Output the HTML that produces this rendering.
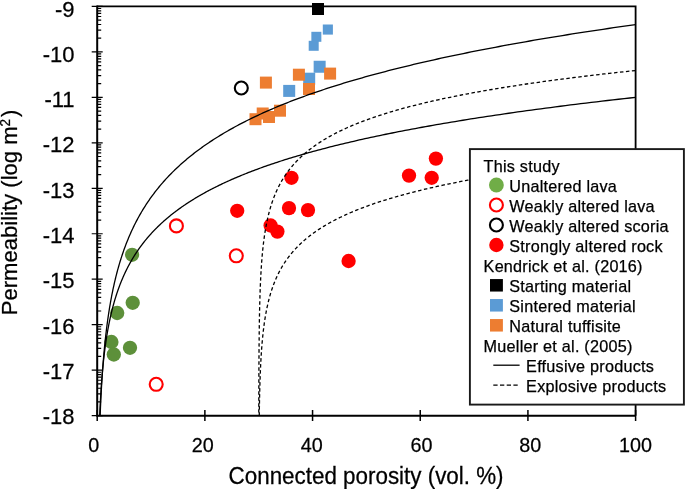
<!DOCTYPE html>
<html><head><meta charset="utf-8"><style>
html,body{margin:0;padding:0;background:#fff;}
body{width:685px;height:489px;overflow:hidden;}
svg{display:block;will-change:transform;}
text{font-family:"Liberation Sans",sans-serif;fill:#000;stroke:#000;stroke-width:0.25px;}
.yl{font-size:22px;}
.xl{font-size:20.4px;}
.tt{font-size:22.4px;}
.lg{font-size:16.2px;letter-spacing:0.24px;}
</style></head><body>
<svg width="685" height="489" viewBox="0 0 685 489">
<rect width="685" height="489" fill="#fff"/>
<circle cx="132.1" cy="254.8" r="7.15" fill="#5d903a"/>
<circle cx="132.7" cy="302.8" r="7.15" fill="#5d903a"/>
<circle cx="117.2" cy="313" r="7.15" fill="#5d903a"/>
<circle cx="111.4" cy="342" r="7.15" fill="#5d903a"/>
<circle cx="113.8" cy="354.5" r="7.15" fill="#5d903a"/>
<circle cx="130" cy="347.8" r="7.15" fill="#5d903a"/>
<circle cx="176.4" cy="225.9" r="6.5" fill="none" stroke="#ff0000" stroke-width="2.1"/>
<circle cx="236.3" cy="255.8" r="6.5" fill="none" stroke="#ff0000" stroke-width="2.1"/>
<circle cx="156.2" cy="384.3" r="6.5" fill="none" stroke="#ff0000" stroke-width="2.1"/>
<circle cx="241.3" cy="88" r="6.5" fill="none" stroke="#000" stroke-width="2.1"/>
<circle cx="237.2" cy="210.8" r="7.15" fill="#ff0000"/>
<circle cx="291.5" cy="177.8" r="7.15" fill="#ff0000"/>
<circle cx="289" cy="208.1" r="7.15" fill="#ff0000"/>
<circle cx="308" cy="210.1" r="7.15" fill="#ff0000"/>
<circle cx="270.6" cy="225.5" r="7.15" fill="#ff0000"/>
<circle cx="277.4" cy="231.6" r="7.15" fill="#ff0000"/>
<circle cx="348.6" cy="261" r="7.15" fill="#ff0000"/>
<circle cx="409" cy="175.6" r="7.15" fill="#ff0000"/>
<circle cx="435.9" cy="158.6" r="7.15" fill="#ff0000"/>
<circle cx="431.7" cy="177.8" r="7.15" fill="#ff0000"/>
<rect x="312" y="3" width="12" height="12" fill="#000"/>
<rect x="322.8" y="24.5" width="10.1" height="10.1" fill="#5b9bd5"/>
<rect x="311.35" y="31.8" width="10" height="10" fill="#5b9bd5"/>
<rect x="308.7" y="40.8" width="10" height="10" fill="#5b9bd5"/>
<rect x="313.65" y="60.75" width="12" height="12" fill="#5b9bd5"/>
<rect x="303.2" y="72.7" width="12" height="12" fill="#5b9bd5"/>
<rect x="283.2" y="84.9" width="12" height="12" fill="#5b9bd5"/>
<rect x="324.1" y="67.6" width="12" height="12" fill="#ed7d31"/>
<rect x="292.9" y="68.7" width="12" height="12" fill="#ed7d31"/>
<rect x="303" y="83" width="12" height="12" fill="#ed7d31"/>
<rect x="259.9" y="76.6" width="12" height="12" fill="#ed7d31"/>
<rect x="249.5" y="113.2" width="12" height="12" fill="#ed7d31"/>
<rect x="256.7" y="107.5" width="12" height="12" fill="#ed7d31"/>
<rect x="263" y="111" width="12" height="12" fill="#ed7d31"/>
<rect x="274" y="104.7" width="12" height="12" fill="#ed7d31"/>
<path d="M100.14 415.63 L100.17 414.85 L100.2 414.07 L100.23 413.28 L100.26 412.5 L100.29 411.72 L100.33 410.94 L100.36 410.16 L100.39 409.37 L100.43 408.59 L100.46 407.81 L100.49 407.03 L100.53 406.24 L100.56 405.46 L100.6 404.68 L100.63 403.9 L100.67 403.12 L100.71 402.33 L100.74 401.55 L100.78 400.77 L100.82 399.99 L100.86 399.21 L100.89 398.42 L100.93 397.64 L100.97 396.86 L101.01 396.08 L101.05 395.3 L101.09 394.51 L101.13 393.73 L101.17 392.95 L101.22 392.17 L101.26 391.39 L101.3 390.6 L101.34 389.82 L101.39 389.04 L101.43 388.26 L101.47 387.47 L101.52 386.69 L101.56 385.91 L101.61 385.13 L101.66 384.35 L101.7 383.56 L101.75 382.78 L101.8 382 L101.85 381.22 L101.89 380.44 L101.94 379.65 L101.99 378.87 L102.04 378.09 L102.09 377.31 L102.15 376.53 L102.2 375.74 L102.25 374.96 L102.3 374.18 L102.36 373.4 L102.41 372.62 L102.47 371.83 L102.52 371.05 L102.58 370.27 L102.63 369.49 L102.69 368.7 L102.75 367.92 L102.81 367.14 L102.86 366.36 L102.92 365.58 L102.98 364.79 L103.04 364.01 L103.1 363.23 L103.17 362.45 L103.23 361.67 L103.29 360.88 L103.36 360.1 L103.42 359.32 L103.49 358.54 L103.55 357.76 L103.62 356.97 L103.69 356.19 L103.75 355.41 L103.82 354.63 L103.89 353.85 L103.96 353.06 L104.03 352.28 L104.1 351.5 L104.18 350.72 L104.25 349.93 L104.32 349.15 L104.4 348.37 L104.47 347.59 L104.55 346.81 L104.63 346.02 L104.7 345.24 L104.78 344.46 L104.86 343.68 L104.94 342.9 L105.02 342.11 L105.11 341.33 L105.19 340.55 L105.27 339.77 L105.36 338.99 L105.44 338.2 L105.53 337.42 L105.62 336.64 L105.7 335.86 L105.79 335.08 L105.88 334.29 L105.97 333.51 L106.07 332.73 L106.16 331.95 L106.25 331.16 L106.35 330.38 L106.44 329.6 L106.54 328.82 L106.64 328.04 L106.74 327.25 L106.84 326.47 L106.94 325.69 L107.04 324.91 L107.14 324.13 L107.25 323.34 L107.35 322.56 L107.46 321.78 L107.57 321 L107.68 320.22 L107.78 319.43 L107.9 318.65 L108.01 317.87 L108.12 317.09 L108.24 316.31 L108.35 315.52 L108.47 314.74 L108.59 313.96 L108.71 313.18 L108.83 312.39 L108.95 311.61 L109.07 310.83 L109.19 310.05 L109.32 309.27 L109.45 308.48 L109.58 307.7 L109.71 306.92 L109.84 306.14 L109.97 305.36 L110.1 304.57 L110.24 303.79 L110.37 303.01 L110.51 302.23 L110.65 301.45 L110.79 300.66 L110.94 299.88 L111.08 299.1 L111.22 298.32 L111.37 297.54 L111.52 296.75 L111.67 295.97 L111.82 295.19 L111.97 294.41 L112.13 293.62 L112.29 292.84 L112.44 292.06 L112.6 291.28 L112.77 290.5 L112.93 289.71 L113.09 288.93 L113.26 288.15 L113.43 287.37 L113.6 286.59 L113.77 285.8 L113.94 285.02 L114.12 284.24 L114.3 283.46 L114.48 282.68 L114.66 281.89 L114.84 281.11 L115.02 280.33 L115.21 279.55 L115.4 278.77 L115.59 277.98 L115.78 277.2 L115.98 276.42 L116.17 275.64 L116.37 274.85 L116.57 274.07 L116.78 273.29 L116.98 272.51 L117.19 271.73 L117.4 270.94 L117.61 270.16 L117.82 269.38 L118.04 268.6 L118.26 267.82 L118.48 267.03 L118.7 266.25 L118.93 265.47 L119.15 264.69 L119.38 263.91 L119.62 263.12 L119.85 262.34 L120.09 261.56 L120.33 260.78 L120.57 260 L120.82 259.21 L121.06 258.43 L121.31 257.65 L121.57 256.87 L121.82 256.08 L122.08 255.3 L122.34 254.52 L122.6 253.74 L122.87 252.96 L123.14 252.17 L123.41 251.39 L123.68 250.61 L123.96 249.83 L124.24 249.05 L124.53 248.26 L124.81 247.48 L125.1 246.7 L125.39 245.92 L125.69 245.14 L125.99 244.35 L126.29 243.57 L126.59 242.79 L126.9 242.01 L127.21 241.23 L127.53 240.44 L127.85 239.66 L128.17 238.88 L128.49 238.1 L128.82 237.31 L129.15 236.53 L129.48 235.75 L129.82 234.97 L130.16 234.19 L130.51 233.4 L130.86 232.62 L131.21 231.84 L131.57 231.06 L131.93 230.28 L132.29 229.49 L132.66 228.71 L133.03 227.93 L133.41 227.15 L133.79 226.37 L134.17 225.58 L134.56 224.8 L134.95 224.02 L135.34 223.24 L135.74 222.46 L136.15 221.67 L136.55 220.89 L136.97 220.11 L137.38 219.33 L137.8 218.54 L138.23 217.76 L138.66 216.98 L139.09 216.2 L139.53 215.42 L139.98 214.63 L140.43 213.85 L140.88 213.07 L141.34 212.29 L141.8 211.51 L142.27 210.72 L142.74 209.94 L143.21 209.16 L143.7 208.38 L144.18 207.6 L144.68 206.81 L145.17 206.03 L145.68 205.25 L146.18 204.47 L146.7 203.69 L147.22 202.9 L147.74 202.12 L148.27 201.34 L148.8 200.56 L149.34 199.77 L149.89 198.99 L150.44 198.21 L151 197.43 L151.56 196.65 L152.13 195.86 L152.71 195.08 L153.29 194.3 L153.88 193.52 L154.47 192.74 L155.07 191.95 L155.68 191.17 L156.29 190.39 L156.91 189.61 L157.54 188.83 L158.17 188.04 L158.81 187.26 L159.45 186.48 L160.1 185.7 L160.76 184.92 L161.43 184.13 L162.1 183.35 L162.78 182.57 L163.47 181.79 L164.16 181 L164.87 180.22 L165.57 179.44 L166.29 178.66 L167.01 177.88 L167.75 177.09 L168.49 176.31 L169.23 175.53 L169.99 174.75 L170.75 173.97 L171.52 173.18 L172.3 172.4 L173.09 171.62 L173.88 170.84 L174.68 170.06 L175.5 169.27 L176.32 168.49 L177.14 167.71 L177.98 166.93 L178.83 166.15 L179.68 165.36 L180.55 164.58 L181.42 163.8 L182.3 163.02 L183.2 162.23 L184.1 161.45 L185.01 160.67 L185.93 159.89 L186.86 159.11 L187.8 158.32 L188.74 157.54 L189.7 156.76 L190.67 155.98 L191.65 155.2 L192.64 154.41 L193.64 153.63 L194.65 152.85 L195.67 152.07 L196.7 151.29 L197.75 150.5 L198.8 149.72 L199.86 148.94 L200.94 148.16 L202.03 147.38 L203.13 146.59 L204.24 145.81 L205.36 145.03 L206.49 144.25 L207.63 143.46 L208.79 142.68 L209.96 141.9 L211.14 141.12 L212.34 140.34 L213.54 139.55 L214.76 138.77 L215.99 137.99 L217.24 137.21 L218.49 136.43 L219.77 135.64 L221.05 134.86 L222.35 134.08 L223.66 133.3 L224.98 132.52 L226.32 131.73 L227.67 130.95 L229.04 130.17 L230.42 129.39 L231.82 128.61 L233.23 127.82 L234.65 127.04 L236.09 126.26 L237.55 125.48 L239.02 124.69 L240.51 123.91 L242.01 123.13 L243.52 122.35 L245.06 121.57 L246.61 120.78 L248.17 120 L249.75 119.22 L251.35 118.44 L252.97 117.66 L254.6 116.87 L256.25 116.09 L257.91 115.31 L259.6 114.53 L261.3 113.75 L263.02 112.96 L264.76 112.18 L266.51 111.4 L268.28 110.62 L270.08 109.84 L271.89 109.05 L273.72 108.27 L275.57 107.49 L277.44 106.71 L279.32 105.92 L281.23 105.14 L283.16 104.36 L285.11 103.58 L287.08 102.8 L289.07 102.01 L291.08 101.23 L293.11 100.45 L295.16 99.67 L297.23 98.89 L299.33 98.1 L301.45 97.32 L303.59 96.54 L305.75 95.76 L307.93 94.98 L310.14 94.19 L312.37 93.41 L314.63 92.63 L316.91 91.85 L319.21 91.07 L321.53 90.28 L323.88 89.5 L326.26 88.72 L328.66 87.94 L331.08 87.15 L333.53 86.37 L336.01 85.59 L338.51 84.81 L341.04 84.03 L343.59 83.24 L346.18 82.46 L348.78 81.68 L351.42 80.9 L354.08 80.12 L356.78 79.33 L359.49 78.55 L362.24 77.77 L365.02 76.99 L367.83 76.21 L370.66 75.42 L373.53 74.64 L376.42 73.86 L379.35 73.08 L382.3 72.3 L385.29 71.51 L388.31 70.73 L391.36 69.95 L394.44 69.17 L397.55 68.38 L400.7 67.6 L403.88 66.82 L407.09 66.04 L410.34 65.26 L413.62 64.47 L416.93 63.69 L420.28 62.91 L423.67 62.13 L427.09 61.35 L430.55 60.56 L434.04 59.78 L437.57 59 L441.13 58.22 L444.74 57.44 L448.38 56.65 L452.06 55.87 L455.77 55.09 L459.53 54.31 L463.33 53.53 L467.16 52.74 L471.04 51.96 L474.96 51.18 L478.91 50.4 L482.91 49.61 L486.95 48.83 L491.04 48.05 L495.16 47.27 L499.33 46.49 L503.54 45.7 L507.8 44.92 L512.1 44.14 L516.45 43.36 L520.84 42.58 L525.28 41.79 L529.77 41.01 L534.3 40.23 L538.88 39.45 L543.5 38.67 L548.18 37.88 L552.91 37.1 L557.68 36.32 L562.5 35.54 L567.38 34.76 L572.3 33.97 L577.28 33.19 L582.31 32.41 L587.39 31.63 L592.53 30.84 L597.72 30.06 L602.96 29.28 L608.26 28.5 L613.62 27.72 L619.03 26.93 L624.49 26.15 L630.02 25.37 L635.6 24.59" fill="none" stroke="#000" stroke-width="1.3"/>
<path d="M99.7 415.63 L99.73 414.99 L99.75 414.36 L99.78 413.72 L99.81 413.08 L99.84 412.45 L99.87 411.81 L99.89 411.17 L99.92 410.54 L99.95 409.9 L99.98 409.26 L100.01 408.63 L100.04 407.99 L100.07 407.35 L100.1 406.72 L100.14 406.08 L100.17 405.44 L100.2 404.81 L100.23 404.17 L100.27 403.53 L100.3 402.9 L100.33 402.26 L100.37 401.63 L100.4 400.99 L100.43 400.35 L100.47 399.72 L100.5 399.08 L100.54 398.44 L100.58 397.81 L100.61 397.17 L100.65 396.53 L100.69 395.9 L100.72 395.26 L100.76 394.62 L100.8 393.99 L100.84 393.35 L100.88 392.71 L100.92 392.08 L100.96 391.44 L101 390.8 L101.04 390.17 L101.08 389.53 L101.12 388.89 L101.17 388.26 L101.21 387.62 L101.25 386.98 L101.3 386.35 L101.34 385.71 L101.39 385.07 L101.43 384.44 L101.48 383.8 L101.52 383.16 L101.57 382.53 L101.62 381.89 L101.66 381.25 L101.71 380.62 L101.76 379.98 L101.81 379.34 L101.86 378.71 L101.91 378.07 L101.96 377.44 L102.01 376.8 L102.07 376.16 L102.12 375.53 L102.17 374.89 L102.22 374.25 L102.28 373.62 L102.33 372.98 L102.39 372.34 L102.45 371.71 L102.5 371.07 L102.56 370.43 L102.62 369.8 L102.68 369.16 L102.73 368.52 L102.79 367.89 L102.86 367.25 L102.92 366.61 L102.98 365.98 L103.04 365.34 L103.1 364.7 L103.17 364.07 L103.23 363.43 L103.3 362.79 L103.36 362.16 L103.43 361.52 L103.5 360.88 L103.56 360.25 L103.63 359.61 L103.7 358.97 L103.77 358.34 L103.84 357.7 L103.92 357.06 L103.99 356.43 L104.06 355.79 L104.14 355.15 L104.21 354.52 L104.29 353.88 L104.36 353.25 L104.44 352.61 L104.52 351.97 L104.6 351.34 L104.68 350.7 L104.76 350.06 L104.84 349.43 L104.92 348.79 L105.01 348.15 L105.09 347.52 L105.18 346.88 L105.26 346.24 L105.35 345.61 L105.44 344.97 L105.53 344.33 L105.62 343.7 L105.71 343.06 L105.8 342.42 L105.89 341.79 L105.99 341.15 L106.08 340.51 L106.18 339.88 L106.27 339.24 L106.37 338.6 L106.47 337.97 L106.57 337.33 L106.67 336.69 L106.77 336.06 L106.88 335.42 L106.98 334.78 L107.09 334.15 L107.19 333.51 L107.3 332.87 L107.41 332.24 L107.52 331.6 L107.63 330.96 L107.75 330.33 L107.86 329.69 L107.98 329.06 L108.09 328.42 L108.21 327.78 L108.33 327.15 L108.45 326.51 L108.57 325.87 L108.69 325.24 L108.82 324.6 L108.94 323.96 L109.07 323.33 L109.2 322.69 L109.33 322.05 L109.46 321.42 L109.59 320.78 L109.72 320.14 L109.86 319.51 L110 318.87 L110.14 318.23 L110.27 317.6 L110.42 316.96 L110.56 316.32 L110.7 315.69 L110.85 315.05 L111 314.41 L111.15 313.78 L111.3 313.14 L111.45 312.5 L111.6 311.87 L111.76 311.23 L111.92 310.59 L112.07 309.96 L112.24 309.32 L112.4 308.68 L112.56 308.05 L112.73 307.41 L112.9 306.77 L113.06 306.14 L113.24 305.5 L113.41 304.87 L113.58 304.23 L113.76 303.59 L113.94 302.96 L114.12 302.32 L114.3 301.68 L114.49 301.05 L114.68 300.41 L114.86 299.77 L115.06 299.14 L115.25 298.5 L115.44 297.86 L115.64 297.23 L115.84 296.59 L116.04 295.95 L116.24 295.32 L116.45 294.68 L116.66 294.04 L116.87 293.41 L117.08 292.77 L117.3 292.13 L117.51 291.5 L117.73 290.86 L117.95 290.22 L118.18 289.59 L118.41 288.95 L118.63 288.31 L118.87 287.68 L119.1 287.04 L119.34 286.4 L119.58 285.77 L119.82 285.13 L120.06 284.49 L120.31 283.86 L120.56 283.22 L120.81 282.58 L121.07 281.95 L121.32 281.31 L121.58 280.68 L121.85 280.04 L122.11 279.4 L122.38 278.77 L122.65 278.13 L122.93 277.49 L123.21 276.86 L123.49 276.22 L123.77 275.58 L124.06 274.95 L124.35 274.31 L124.64 273.67 L124.94 273.04 L125.24 272.4 L125.54 271.76 L125.85 271.13 L126.16 270.49 L126.47 269.85 L126.79 269.22 L127.11 268.58 L127.43 267.94 L127.76 267.31 L128.09 266.67 L128.42 266.03 L128.76 265.4 L129.1 264.76 L129.44 264.12 L129.79 263.49 L130.14 262.85 L130.5 262.21 L130.86 261.58 L131.22 260.94 L131.59 260.3 L131.96 259.67 L132.34 259.03 L132.72 258.39 L133.1 257.76 L133.49 257.12 L133.88 256.48 L134.28 255.85 L134.68 255.21 L135.08 254.58 L135.49 253.94 L135.91 253.3 L136.32 252.67 L136.75 252.03 L137.17 251.39 L137.61 250.76 L138.04 250.12 L138.48 249.48 L138.93 248.85 L139.38 248.21 L139.84 247.57 L140.3 246.94 L140.76 246.3 L141.23 245.66 L141.71 245.03 L142.19 244.39 L142.67 243.75 L143.17 243.12 L143.66 242.48 L144.16 241.84 L144.67 241.21 L145.18 240.57 L145.7 239.93 L146.23 239.3 L146.76 238.66 L147.29 238.02 L147.83 237.39 L148.38 236.75 L148.93 236.11 L149.49 235.48 L150.06 234.84 L150.63 234.2 L151.21 233.57 L151.79 232.93 L152.38 232.29 L152.97 231.66 L153.58 231.02 L154.19 230.39 L154.8 229.75 L155.42 229.11 L156.05 228.48 L156.69 227.84 L157.33 227.2 L157.98 226.57 L158.64 225.93 L159.3 225.29 L159.97 224.66 L160.65 224.02 L161.34 223.38 L162.03 222.75 L162.73 222.11 L163.44 221.47 L164.15 220.84 L164.88 220.2 L165.61 219.56 L166.35 218.93 L167.09 218.29 L167.85 217.65 L168.61 217.02 L169.38 216.38 L170.16 215.74 L170.95 215.11 L171.75 214.47 L172.55 213.83 L173.37 213.2 L174.19 212.56 L175.02 211.92 L175.86 211.29 L176.71 210.65 L177.57 210.01 L178.44 209.38 L179.32 208.74 L180.21 208.1 L181.1 207.47 L182.01 206.83 L182.92 206.2 L183.85 205.56 L184.79 204.92 L185.73 204.29 L186.69 203.65 L187.66 203.01 L188.63 202.38 L189.62 201.74 L190.62 201.1 L191.63 200.47 L192.65 199.83 L193.68 199.19 L194.72 198.56 L195.78 197.92 L196.84 197.28 L197.92 196.65 L199.01 196.01 L200.11 195.37 L201.22 194.74 L202.34 194.1 L203.48 193.46 L204.62 192.83 L205.79 192.19 L206.96 191.55 L208.14 190.92 L209.34 190.28 L210.55 189.64 L211.78 189.01 L213.02 188.37 L214.27 187.73 L215.53 187.1 L216.81 186.46 L218.1 185.82 L219.41 185.19 L220.73 184.55 L222.06 183.91 L223.41 183.28 L224.78 182.64 L226.16 182.01 L227.55 181.37 L228.96 180.73 L230.38 180.1 L231.82 179.46 L233.27 178.82 L234.74 178.19 L236.23 177.55 L237.73 176.91 L239.25 176.28 L240.78 175.64 L242.33 175 L243.9 174.37 L245.49 173.73 L247.09 173.09 L248.71 172.46 L250.35 171.82 L252 171.18 L253.67 170.55 L255.36 169.91 L257.07 169.27 L258.8 168.64 L260.54 168 L262.31 167.36 L264.09 166.73 L265.9 166.09 L267.72 165.45 L269.56 164.82 L271.42 164.18 L273.31 163.54 L275.21 162.91 L277.13 162.27 L279.07 161.63 L281.04 161 L283.03 160.36 L285.03 159.72 L287.06 159.09 L289.11 158.45 L291.19 157.82 L293.28 157.18 L295.4 156.54 L297.54 155.91 L299.71 155.27 L301.89 154.63 L304.11 154 L306.34 153.36 L308.6 152.72 L310.88 152.09 L313.19 151.45 L315.53 150.81 L317.88 150.18 L320.27 149.54 L322.68 148.9 L325.11 148.27 L327.58 147.63 L330.07 146.99 L332.58 146.36 L335.12 145.72 L337.69 145.08 L340.29 144.45 L342.92 143.81 L345.57 143.17 L348.26 142.54 L350.97 141.9 L353.71 141.26 L356.48 140.63 L359.28 139.99 L362.11 139.35 L364.98 138.72 L367.87 138.08 L370.79 137.44 L373.75 136.81 L376.74 136.17 L379.76 135.53 L382.81 134.9 L385.89 134.26 L389.01 133.63 L392.17 132.99 L395.35 132.35 L398.57 131.72 L401.83 131.08 L405.12 130.44 L408.45 129.81 L411.81 129.17 L415.21 128.53 L418.64 127.9 L422.12 127.26 L425.63 126.62 L429.17 125.99 L432.76 125.35 L436.39 124.71 L440.05 124.08 L443.75 123.44 L447.5 122.8 L451.28 122.17 L455.11 121.53 L458.97 120.89 L462.88 120.26 L466.83 119.62 L470.83 118.98 L474.86 118.35 L478.94 117.71 L483.07 117.07 L487.24 116.44 L491.45 115.8 L495.71 115.16 L500.01 114.53 L504.37 113.89 L508.76 113.25 L513.21 112.62 L517.71 111.98 L522.25 111.34 L526.84 110.71 L531.48 110.07 L536.17 109.44 L540.92 108.8 L545.71 108.16 L550.55 107.53 L555.45 106.89 L560.4 106.25 L565.41 105.62 L570.47 104.98 L575.58 104.34 L580.75 103.71 L585.97 103.07 L591.25 102.43 L596.59 101.8 L601.98 101.16 L607.44 100.52 L612.95 99.89 L618.52 99.25 L624.15 98.61 L629.85 97.98 L635.6 97.34" fill="none" stroke="#000" stroke-width="1.3"/>
<path d="M258.78 415.63 L258.78 415.05 L258.78 414.48 L258.78 413.9 L258.78 413.33 L258.78 412.75 L258.79 412.18 L258.79 411.6 L258.79 411.03 L258.79 410.45 L258.79 409.88 L258.79 409.3 L258.79 408.73 L258.79 408.15 L258.79 407.58 L258.8 407 L258.8 406.43 L258.8 405.85 L258.8 405.28 L258.8 404.7 L258.8 404.13 L258.8 403.55 L258.8 402.98 L258.8 402.4 L258.81 401.82 L258.81 401.25 L258.81 400.67 L258.81 400.1 L258.81 399.52 L258.81 398.95 L258.81 398.37 L258.81 397.8 L258.82 397.22 L258.82 396.65 L258.82 396.07 L258.82 395.5 L258.82 394.92 L258.82 394.35 L258.83 393.77 L258.83 393.2 L258.83 392.62 L258.83 392.05 L258.83 391.47 L258.83 390.9 L258.83 390.32 L258.84 389.75 L258.84 389.17 L258.84 388.6 L258.84 388.02 L258.84 387.44 L258.85 386.87 L258.85 386.29 L258.85 385.72 L258.85 385.14 L258.85 384.57 L258.85 383.99 L258.86 383.42 L258.86 382.84 L258.86 382.27 L258.86 381.69 L258.86 381.12 L258.87 380.54 L258.87 379.97 L258.87 379.39 L258.87 378.82 L258.88 378.24 L258.88 377.67 L258.88 377.09 L258.88 376.52 L258.89 375.94 L258.89 375.37 L258.89 374.79 L258.89 374.21 L258.89 373.64 L258.9 373.06 L258.9 372.49 L258.9 371.91 L258.91 371.34 L258.91 370.76 L258.91 370.19 L258.91 369.61 L258.92 369.04 L258.92 368.46 L258.92 367.89 L258.93 367.31 L258.93 366.74 L258.93 366.16 L258.93 365.59 L258.94 365.01 L258.94 364.44 L258.94 363.86 L258.95 363.29 L258.95 362.71 L258.95 362.14 L258.96 361.56 L258.96 360.99 L258.96 360.41 L258.97 359.83 L258.97 359.26 L258.98 358.68 L258.98 358.11 L258.98 357.53 L258.99 356.96 L258.99 356.38 L258.99 355.81 L259 355.23 L259 354.66 L259.01 354.08 L259.01 353.51 L259.02 352.93 L259.02 352.36 L259.02 351.78 L259.03 351.21 L259.03 350.63 L259.04 350.06 L259.04 349.48 L259.05 348.91 L259.05 348.33 L259.06 347.76 L259.06 347.18 L259.07 346.6 L259.07 346.03 L259.08 345.45 L259.08 344.88 L259.09 344.3 L259.09 343.73 L259.1 343.15 L259.1 342.58 L259.11 342 L259.12 341.43 L259.12 340.85 L259.13 340.28 L259.13 339.7 L259.14 339.13 L259.15 338.55 L259.15 337.98 L259.16 337.4 L259.16 336.83 L259.17 336.25 L259.18 335.68 L259.18 335.1 L259.19 334.53 L259.2 333.95 L259.2 333.37 L259.21 332.8 L259.22 332.22 L259.23 331.65 L259.23 331.07 L259.24 330.5 L259.25 329.92 L259.26 329.35 L259.26 328.77 L259.27 328.2 L259.28 327.62 L259.29 327.05 L259.3 326.47 L259.31 325.9 L259.31 325.32 L259.32 324.75 L259.33 324.17 L259.34 323.6 L259.35 323.02 L259.36 322.45 L259.37 321.87 L259.38 321.3 L259.39 320.72 L259.4 320.15 L259.41 319.57 L259.42 318.99 L259.43 318.42 L259.44 317.84 L259.45 317.27 L259.46 316.69 L259.47 316.12 L259.48 315.54 L259.49 314.97 L259.5 314.39 L259.52 313.82 L259.53 313.24 L259.54 312.67 L259.55 312.09 L259.56 311.52 L259.58 310.94 L259.59 310.37 L259.6 309.79 L259.61 309.22 L259.63 308.64 L259.64 308.07 L259.65 307.49 L259.67 306.92 L259.68 306.34 L259.7 305.76 L259.71 305.19 L259.72 304.61 L259.74 304.04 L259.75 303.46 L259.77 302.89 L259.78 302.31 L259.8 301.74 L259.82 301.16 L259.83 300.59 L259.85 300.01 L259.86 299.44 L259.88 298.86 L259.9 298.29 L259.92 297.71 L259.93 297.14 L259.95 296.56 L259.97 295.99 L259.99 295.41 L260.01 294.84 L260.03 294.26 L260.04 293.69 L260.06 293.11 L260.08 292.53 L260.1 291.96 L260.12 291.38 L260.14 290.81 L260.17 290.23 L260.19 289.66 L260.21 289.08 L260.23 288.51 L260.25 287.93 L260.27 287.36 L260.3 286.78 L260.32 286.21 L260.34 285.63 L260.37 285.06 L260.39 284.48 L260.42 283.91 L260.44 283.33 L260.47 282.76 L260.49 282.18 L260.52 281.61 L260.54 281.03 L260.57 280.46 L260.6 279.88 L260.63 279.31 L260.65 278.73 L260.68 278.15 L260.71 277.58 L260.74 277 L260.77 276.43 L260.8 275.85 L260.83 275.28 L260.86 274.7 L260.89 274.13 L260.93 273.55 L260.96 272.98 L260.99 272.4 L261.02 271.83 L261.06 271.25 L261.09 270.68 L261.13 270.1 L261.16 269.53 L261.2 268.95 L261.23 268.38 L261.27 267.8 L261.31 267.23 L261.35 266.65 L261.38 266.08 L261.42 265.5 L261.46 264.92 L261.5 264.35 L261.54 263.77 L261.59 263.2 L261.63 262.62 L261.67 262.05 L261.71 261.47 L261.76 260.9 L261.8 260.32 L261.85 259.75 L261.89 259.17 L261.94 258.6 L261.99 258.02 L262.04 257.45 L262.08 256.87 L262.13 256.3 L262.18 255.72 L262.23 255.15 L262.29 254.57 L262.34 254 L262.39 253.42 L262.45 252.85 L262.5 252.27 L262.56 251.7 L262.61 251.12 L262.67 250.54 L262.73 249.97 L262.79 249.39 L262.84 248.82 L262.91 248.24 L262.97 247.67 L263.03 247.09 L263.09 246.52 L263.16 245.94 L263.22 245.37 L263.29 244.79 L263.35 244.22 L263.42 243.64 L263.49 243.07 L263.56 242.49 L263.63 241.92 L263.7 241.34 L263.78 240.77 L263.85 240.19 L263.93 239.62 L264 239.04 L264.08 238.47 L264.16 237.89 L264.24 237.31 L264.32 236.74 L264.4 236.16 L264.49 235.59 L264.57 235.01 L264.66 234.44 L264.74 233.86 L264.83 233.29 L264.92 232.71 L265.01 232.14 L265.1 231.56 L265.2 230.99 L265.29 230.41 L265.39 229.84 L265.49 229.26 L265.59 228.69 L265.69 228.11 L265.79 227.54 L265.89 226.96 L266 226.39 L266.11 225.81 L266.21 225.24 L266.32 224.66 L266.44 224.08 L266.55 223.51 L266.66 222.93 L266.78 222.36 L266.9 221.78 L267.02 221.21 L267.14 220.63 L267.26 220.06 L267.39 219.48 L267.52 218.91 L267.65 218.33 L267.78 217.76 L267.91 217.18 L268.04 216.61 L268.18 216.03 L268.32 215.46 L268.46 214.88 L268.6 214.31 L268.75 213.73 L268.9 213.16 L269.04 212.58 L269.2 212.01 L269.35 211.43 L269.51 210.86 L269.66 210.28 L269.82 209.7 L269.99 209.13 L270.15 208.55 L270.32 207.98 L270.49 207.4 L270.66 206.83 L270.84 206.25 L271.02 205.68 L271.2 205.1 L271.38 204.53 L271.57 203.95 L271.75 203.38 L271.95 202.8 L272.14 202.23 L272.34 201.65 L272.54 201.08 L272.74 200.5 L272.94 199.93 L273.15 199.35 L273.37 198.78 L273.58 198.2 L273.8 197.63 L274.02 197.05 L274.24 196.47 L274.47 195.9 L274.7 195.32 L274.94 194.75 L275.17 194.17 L275.42 193.6 L275.66 193.02 L275.91 192.45 L276.16 191.87 L276.42 191.3 L276.68 190.72 L276.94 190.15 L277.21 189.57 L277.48 189 L277.75 188.42 L278.03 187.85 L278.32 187.27 L278.6 186.7 L278.9 186.12 L279.19 185.55 L279.49 184.97 L279.8 184.4 L280.11 183.82 L280.42 183.25 L280.74 182.67 L281.06 182.09 L281.39 181.52 L281.72 180.94 L282.06 180.37 L282.4 179.79 L282.75 179.22 L283.1 178.64 L283.46 178.07 L283.82 177.49 L284.19 176.92 L284.56 176.34 L284.94 175.77 L285.33 175.19 L285.72 174.62 L286.12 174.04 L286.52 173.47 L286.92 172.89 L287.34 172.32 L287.76 171.74 L288.18 171.17 L288.62 170.59 L289.06 170.02 L289.5 169.44 L289.95 168.86 L290.41 168.29 L290.88 167.71 L291.35 167.14 L291.83 166.56 L292.31 165.99 L292.8 165.41 L293.3 164.84 L293.81 164.26 L294.33 163.69 L294.85 163.11 L295.38 162.54 L295.92 161.96 L296.46 161.39 L297.02 160.81 L297.58 160.24 L298.15 159.66 L298.73 159.09 L299.31 158.51 L299.91 157.94 L300.51 157.36 L301.13 156.79 L301.75 156.21 L302.38 155.63 L303.02 155.06 L303.67 154.48 L304.33 153.91 L305 153.33 L305.68 152.76 L306.37 152.18 L307.07 151.61 L307.77 151.03 L308.49 150.46 L309.22 149.88 L309.97 149.31 L310.72 148.73 L311.48 148.16 L312.25 147.58 L313.04 147.01 L313.84 146.43 L314.65 145.86 L315.47 145.28 L316.3 144.71 L317.14 144.13 L318 143.56 L318.87 142.98 L319.75 142.41 L320.65 141.83 L321.56 141.25 L322.48 140.68 L323.41 140.1 L324.36 139.53 L325.33 138.95 L326.3 138.38 L327.29 137.8 L328.3 137.23 L329.32 136.65 L330.36 136.08 L331.41 135.5 L332.47 134.93 L333.56 134.35 L334.65 133.78 L335.77 133.2 L336.9 132.63 L338.05 132.05 L339.21 131.48 L340.39 130.9 L341.59 130.33 L342.8 129.75 L344.04 129.18 L345.29 128.6 L346.56 128.02 L347.85 127.45 L349.16 126.87 L350.48 126.3 L351.83 125.72 L353.19 125.15 L354.58 124.57 L355.99 124 L357.41 123.42 L358.86 122.85 L360.33 122.27 L361.82 121.7 L363.33 121.12 L364.87 120.55 L366.43 119.97 L368.01 119.4 L369.61 118.82 L371.24 118.25 L372.89 117.67 L374.56 117.1 L376.26 116.52 L377.99 115.95 L379.74 115.37 L381.51 114.79 L383.31 114.22 L385.14 113.64 L386.99 113.07 L388.88 112.49 L390.79 111.92 L392.72 111.34 L394.69 110.77 L396.68 110.19 L398.71 109.62 L400.76 109.04 L402.85 108.47 L404.96 107.89 L407.11 107.32 L409.28 106.74 L411.49 106.17 L413.73 105.59 L416.01 105.02 L418.31 104.44 L420.66 103.87 L423.03 103.29 L425.44 102.72 L427.89 102.14 L430.37 101.57 L432.89 100.99 L435.44 100.41 L438.04 99.84 L440.67 99.26 L443.34 98.69 L446.04 98.11 L448.79 97.54 L451.58 96.96 L454.41 96.39 L457.28 95.81 L460.19 95.24 L463.15 94.66 L466.15 94.09 L469.19 93.51 L472.28 92.94 L475.41 92.36 L478.59 91.79 L481.82 91.21 L485.09 90.64 L488.41 90.06 L491.78 89.49 L495.2 88.91 L498.67 88.34 L502.19 87.76 L505.76 87.18 L509.39 86.61 L513.07 86.03 L516.8 85.46 L520.58 84.88 L524.42 84.31 L528.32 83.73 L532.28 83.16 L536.29 82.58 L540.36 82.01 L544.5 81.43 L548.69 80.86 L552.94 80.28 L557.26 79.71 L561.64 79.13 L566.08 78.56 L570.59 77.98 L575.17 77.41 L579.81 76.83 L584.52 76.26 L589.3 75.68 L594.15 75.11 L599.07 74.53 L604.06 73.96 L609.13 73.38 L614.27 72.8 L619.49 72.23 L624.78 71.65 L630.15 71.08 L635.6 70.5" fill="none" stroke="#000" stroke-width="1.3" stroke-dasharray="3.5 2.5" stroke-dashoffset="3"/>
<path d="M259.26 415.63 L259.26 415.2 L259.27 414.77 L259.28 414.34 L259.28 413.91 L259.29 413.47 L259.29 413.04 L259.3 412.61 L259.31 412.18 L259.31 411.75 L259.32 411.32 L259.33 410.89 L259.33 410.46 L259.34 410.02 L259.35 409.59 L259.35 409.16 L259.36 408.73 L259.37 408.3 L259.38 407.87 L259.38 407.44 L259.39 407.01 L259.4 406.57 L259.4 406.14 L259.41 405.71 L259.42 405.28 L259.43 404.85 L259.44 404.42 L259.44 403.99 L259.45 403.56 L259.46 403.12 L259.47 402.69 L259.48 402.26 L259.48 401.83 L259.49 401.4 L259.5 400.97 L259.51 400.54 L259.52 400.11 L259.53 399.67 L259.54 399.24 L259.54 398.81 L259.55 398.38 L259.56 397.95 L259.57 397.52 L259.58 397.09 L259.59 396.66 L259.6 396.23 L259.61 395.79 L259.62 395.36 L259.63 394.93 L259.64 394.5 L259.65 394.07 L259.66 393.64 L259.67 393.21 L259.68 392.78 L259.69 392.34 L259.7 391.91 L259.71 391.48 L259.72 391.05 L259.73 390.62 L259.75 390.19 L259.76 389.76 L259.77 389.33 L259.78 388.89 L259.79 388.46 L259.8 388.03 L259.81 387.6 L259.83 387.17 L259.84 386.74 L259.85 386.31 L259.86 385.88 L259.88 385.44 L259.89 385.01 L259.9 384.58 L259.91 384.15 L259.93 383.72 L259.94 383.29 L259.95 382.86 L259.97 382.43 L259.98 381.99 L260 381.56 L260.01 381.13 L260.02 380.7 L260.04 380.27 L260.05 379.84 L260.07 379.41 L260.08 378.98 L260.1 378.54 L260.11 378.11 L260.13 377.68 L260.14 377.25 L260.16 376.82 L260.17 376.39 L260.19 375.96 L260.21 375.53 L260.22 375.1 L260.24 374.66 L260.26 374.23 L260.27 373.8 L260.29 373.37 L260.31 372.94 L260.32 372.51 L260.34 372.08 L260.36 371.65 L260.38 371.21 L260.4 370.78 L260.41 370.35 L260.43 369.92 L260.45 369.49 L260.47 369.06 L260.49 368.63 L260.51 368.2 L260.53 367.76 L260.55 367.33 L260.57 366.9 L260.59 366.47 L260.61 366.04 L260.63 365.61 L260.65 365.18 L260.67 364.75 L260.69 364.31 L260.72 363.88 L260.74 363.45 L260.76 363.02 L260.78 362.59 L260.8 362.16 L260.83 361.73 L260.85 361.3 L260.87 360.86 L260.9 360.43 L260.92 360 L260.95 359.57 L260.97 359.14 L261 358.71 L261.02 358.28 L261.05 357.85 L261.07 357.42 L261.1 356.98 L261.12 356.55 L261.15 356.12 L261.18 355.69 L261.2 355.26 L261.23 354.83 L261.26 354.4 L261.29 353.97 L261.31 353.53 L261.34 353.1 L261.37 352.67 L261.4 352.24 L261.43 351.81 L261.46 351.38 L261.49 350.95 L261.52 350.52 L261.55 350.08 L261.58 349.65 L261.61 349.22 L261.64 348.79 L261.68 348.36 L261.71 347.93 L261.74 347.5 L261.78 347.07 L261.81 346.63 L261.84 346.2 L261.88 345.77 L261.91 345.34 L261.95 344.91 L261.98 344.48 L262.02 344.05 L262.05 343.62 L262.09 343.18 L262.13 342.75 L262.17 342.32 L262.2 341.89 L262.24 341.46 L262.28 341.03 L262.32 340.6 L262.36 340.17 L262.4 339.73 L262.44 339.3 L262.48 338.87 L262.52 338.44 L262.56 338.01 L262.6 337.58 L262.65 337.15 L262.69 336.72 L262.73 336.29 L262.78 335.85 L262.82 335.42 L262.87 334.99 L262.91 334.56 L262.96 334.13 L263.01 333.7 L263.05 333.27 L263.1 332.84 L263.15 332.4 L263.2 331.97 L263.25 331.54 L263.3 331.11 L263.35 330.68 L263.4 330.25 L263.45 329.82 L263.5 329.39 L263.55 328.95 L263.61 328.52 L263.66 328.09 L263.71 327.66 L263.77 327.23 L263.82 326.8 L263.88 326.37 L263.94 325.94 L263.99 325.5 L264.05 325.07 L264.11 324.64 L264.17 324.21 L264.23 323.78 L264.29 323.35 L264.35 322.92 L264.41 322.49 L264.48 322.05 L264.54 321.62 L264.6 321.19 L264.67 320.76 L264.73 320.33 L264.8 319.9 L264.87 319.47 L264.93 319.04 L265 318.61 L265.07 318.17 L265.14 317.74 L265.21 317.31 L265.28 316.88 L265.35 316.45 L265.43 316.02 L265.5 315.59 L265.57 315.16 L265.65 314.72 L265.73 314.29 L265.8 313.86 L265.88 313.43 L265.96 313 L266.04 312.57 L266.12 312.14 L266.2 311.71 L266.28 311.27 L266.36 310.84 L266.45 310.41 L266.53 309.98 L266.62 309.55 L266.71 309.12 L266.79 308.69 L266.88 308.26 L266.97 307.82 L267.06 307.39 L267.15 306.96 L267.25 306.53 L267.34 306.1 L267.44 305.67 L267.53 305.24 L267.63 304.81 L267.73 304.37 L267.82 303.94 L267.92 303.51 L268.03 303.08 L268.13 302.65 L268.23 302.22 L268.33 301.79 L268.44 301.36 L268.55 300.92 L268.66 300.49 L268.76 300.06 L268.87 299.63 L268.99 299.2 L269.1 298.77 L269.21 298.34 L269.33 297.91 L269.44 297.48 L269.56 297.04 L269.68 296.61 L269.8 296.18 L269.92 295.75 L270.05 295.32 L270.17 294.89 L270.3 294.46 L270.42 294.03 L270.55 293.59 L270.68 293.16 L270.81 292.73 L270.95 292.3 L271.08 291.87 L271.22 291.44 L271.35 291.01 L271.49 290.58 L271.63 290.14 L271.77 289.71 L271.92 289.28 L272.06 288.85 L272.21 288.42 L272.36 287.99 L272.51 287.56 L272.66 287.13 L272.81 286.69 L272.96 286.26 L273.12 285.83 L273.28 285.4 L273.44 284.97 L273.6 284.54 L273.76 284.11 L273.93 283.68 L274.1 283.24 L274.26 282.81 L274.44 282.38 L274.61 281.95 L274.78 281.52 L274.96 281.09 L275.14 280.66 L275.32 280.23 L275.5 279.8 L275.68 279.36 L275.87 278.93 L276.06 278.5 L276.25 278.07 L276.44 277.64 L276.64 277.21 L276.83 276.78 L277.03 276.35 L277.23 275.91 L277.44 275.48 L277.64 275.05 L277.85 274.62 L278.06 274.19 L278.27 273.76 L278.49 273.33 L278.7 272.9 L278.92 272.46 L279.14 272.03 L279.37 271.6 L279.59 271.17 L279.82 270.74 L280.06 270.31 L280.29 269.88 L280.53 269.45 L280.77 269.01 L281.01 268.58 L281.25 268.15 L281.5 267.72 L281.75 267.29 L282 266.86 L282.26 266.43 L282.52 266 L282.78 265.56 L283.04 265.13 L283.31 264.7 L283.58 264.27 L283.85 263.84 L284.13 263.41 L284.41 262.98 L284.69 262.55 L284.97 262.11 L285.26 261.68 L285.55 261.25 L285.85 260.82 L286.15 260.39 L286.45 259.96 L286.75 259.53 L287.06 259.1 L287.37 258.67 L287.68 258.23 L288 257.8 L288.32 257.37 L288.65 256.94 L288.98 256.51 L289.31 256.08 L289.65 255.65 L289.99 255.22 L290.33 254.78 L290.68 254.35 L291.03 253.92 L291.38 253.49 L291.74 253.06 L292.1 252.63 L292.47 252.2 L292.84 251.77 L293.21 251.33 L293.59 250.9 L293.98 250.47 L294.36 250.04 L294.75 249.61 L295.15 249.18 L295.55 248.75 L295.95 248.32 L296.36 247.88 L296.78 247.45 L297.19 247.02 L297.62 246.59 L298.04 246.16 L298.47 245.73 L298.91 245.3 L299.35 244.87 L299.8 244.43 L300.25 244 L300.71 243.57 L301.17 243.14 L301.63 242.71 L302.1 242.28 L302.58 241.85 L303.06 241.42 L303.55 240.99 L304.04 240.55 L304.54 240.12 L305.04 239.69 L305.55 239.26 L306.06 238.83 L306.58 238.4 L307.11 237.97 L307.64 237.54 L308.18 237.1 L308.72 236.67 L309.27 236.24 L309.82 235.81 L310.38 235.38 L310.95 234.95 L311.52 234.52 L312.1 234.09 L312.69 233.65 L313.28 233.22 L313.88 232.79 L314.49 232.36 L315.1 231.93 L315.72 231.5 L316.34 231.07 L316.98 230.64 L317.62 230.2 L318.26 229.77 L318.92 229.34 L319.58 228.91 L320.25 228.48 L320.92 228.05 L321.6 227.62 L322.29 227.19 L322.99 226.75 L323.7 226.32 L324.41 225.89 L325.13 225.46 L325.86 225.03 L326.6 224.6 L327.34 224.17 L328.1 223.74 L328.86 223.3 L329.63 222.87 L330.41 222.44 L331.19 222.01 L331.99 221.58 L332.79 221.15 L333.61 220.72 L334.43 220.29 L335.26 219.86 L336.1 219.42 L336.95 218.99 L337.81 218.56 L338.68 218.13 L339.56 217.7 L340.44 217.27 L341.34 216.84 L342.25 216.41 L343.16 215.97 L344.09 215.54 L345.03 215.11 L345.98 214.68 L346.93 214.25 L347.9 213.82 L348.88 213.39 L349.87 212.96 L350.87 212.52 L351.88 212.09 L352.91 211.66 L353.94 211.23 L354.99 210.8 L356.04 210.37 L357.11 209.94 L358.19 209.51 L359.28 209.07 L360.39 208.64 L361.5 208.21 L362.63 207.78 L363.77 207.35 L364.93 206.92 L366.09 206.49 L367.27 206.06 L368.46 205.62 L369.67 205.19 L370.89 204.76 L372.12 204.33 L373.36 203.9 L374.62 203.47 L375.89 203.04 L377.18 202.61 L378.48 202.18 L379.79 201.74 L381.12 201.31 L382.47 200.88 L383.83 200.45 L385.2 200.02 L386.59 199.59 L387.99 199.16 L389.41 198.73 L390.85 198.29 L392.3 197.86 L393.76 197.43 L395.25 197 L396.74 196.57 L398.26 196.14 L399.79 195.71 L401.34 195.28 L402.91 194.84 L404.49 194.41 L406.09 193.98 L407.71 193.55 L409.34 193.12 L411 192.69 L412.67 192.26 L414.36 191.83 L416.07 191.39 L417.79 190.96 L419.54 190.53 L421.31 190.1 L423.09 189.67 L424.9 189.24 L426.72 188.81 L428.56 188.38 L430.43 187.94 L432.31 187.51 L434.22 187.08 L436.15 186.65 L438.09 186.22 L440.06 185.79 L442.05 185.36 L444.07 184.93 L446.1 184.49 L448.16 184.06 L450.24 183.63 L452.34 183.2 L454.47 182.77 L456.62 182.34 L458.79 181.91 L460.98 181.48 L463.2 181.05 L465.45 180.61 L467.72 180.18 L470.01 179.75 L472.33 179.32 L474.68 178.89 L477.05 178.46 L479.45 178.03 L481.87 177.6 L484.32 177.16 L486.8 176.73 L489.3 176.3 L491.83 175.87 L494.39 175.44 L496.98 175.01 L499.59 174.58 L502.24 174.15 L504.91 173.71 L507.61 173.28 L510.35 172.85 L513.11 172.42 L515.9 171.99 L518.72 171.56 L521.58 171.13 L524.46 170.7 L527.38 170.26 L530.33 169.83 L533.31 169.4 L536.33 168.97 L539.38 168.54 L542.46 168.11 L545.57 167.68 L548.72 167.25 L551.9 166.81 L555.12 166.38 L558.38 165.95 L561.67 165.52 L564.99 165.09 L568.36 164.66 L571.75 164.23 L575.19 163.8 L578.67 163.37 L582.18 162.93 L585.73 162.5 L589.32 162.07 L592.95 161.64 L596.62 161.21 L600.33 160.78 L604.08 160.35 L607.87 159.92 L611.7 159.48 L615.58 159.05 L619.49 158.62 L623.46 158.19 L627.46 157.76 L631.51 157.33 L635.6 156.9" fill="none" stroke="#000" stroke-width="1.3" stroke-dasharray="3.5 2.5"/>
<path d="M97.2 6.4 H635.6 V415.63" fill="none" stroke="#000" stroke-width="1.8"/>
<path d="M97.2 5.4 V415.63 H635.6" fill="none" stroke="#000" stroke-width="2"/>
<path d="M91.7 6.4 H102.7 M97.2 38.18 H101.2 M97.2 30.18 H101.2 M97.2 24.49 H101.2 M97.2 20.09 H101.2 M97.2 16.49 H101.2 M97.2 13.44 H101.2 M97.2 10.81 H101.2 M97.2 8.48 H101.2 M91.7 51.87 H102.7 M97.2 83.65 H101.2 M97.2 75.65 H101.2 M97.2 69.96 H101.2 M97.2 65.56 H101.2 M97.2 61.96 H101.2 M97.2 58.91 H101.2 M97.2 56.28 H101.2 M97.2 53.95 H101.2 M91.7 97.34 H102.7 M97.2 129.12 H101.2 M97.2 121.12 H101.2 M97.2 115.43 H101.2 M97.2 111.03 H101.2 M97.2 107.43 H101.2 M97.2 104.38 H101.2 M97.2 101.75 H101.2 M97.2 99.42 H101.2 M91.7 142.81 H102.7 M97.2 174.59 H101.2 M97.2 166.59 H101.2 M97.2 160.9 H101.2 M97.2 156.5 H101.2 M97.2 152.9 H101.2 M97.2 149.85 H101.2 M97.2 147.22 H101.2 M97.2 144.89 H101.2 M91.7 188.28 H102.7 M97.2 220.06 H101.2 M97.2 212.06 H101.2 M97.2 206.37 H101.2 M97.2 201.97 H101.2 M97.2 198.37 H101.2 M97.2 195.32 H101.2 M97.2 192.69 H101.2 M97.2 190.36 H101.2 M91.7 233.75 H102.7 M97.2 265.53 H101.2 M97.2 257.53 H101.2 M97.2 251.84 H101.2 M97.2 247.44 H101.2 M97.2 243.84 H101.2 M97.2 240.79 H101.2 M97.2 238.16 H101.2 M97.2 235.83 H101.2 M91.7 279.22 H102.7 M97.2 311 H101.2 M97.2 303 H101.2 M97.2 297.31 H101.2 M97.2 292.91 H101.2 M97.2 289.31 H101.2 M97.2 286.26 H101.2 M97.2 283.63 H101.2 M97.2 281.3 H101.2 M91.7 324.69 H102.7 M97.2 356.47 H101.2 M97.2 348.47 H101.2 M97.2 342.78 H101.2 M97.2 338.38 H101.2 M97.2 334.78 H101.2 M97.2 331.73 H101.2 M97.2 329.1 H101.2 M97.2 326.77 H101.2 M91.7 370.16 H102.7 M97.2 401.94 H101.2 M97.2 393.94 H101.2 M97.2 388.25 H101.2 M97.2 383.85 H101.2 M97.2 380.25 H101.2 M97.2 377.2 H101.2 M97.2 374.57 H101.2 M97.2 372.24 H101.2 M91.7 415.63 H102.7" stroke="#000" stroke-width="1.2"/>
<path d="M97.2 410.1 V420.9 M204.88 410.1 V420.9 M312.56 410.1 V420.9 M420.24 410.1 V420.9 M527.92 410.1 V420.9 M635.6 410.1 V420.9" stroke="#000" stroke-width="1.5"/>
<text transform="translate(74.6 16.63) scale(1 1.045)" text-anchor="end" class="yl">-9</text>
<text transform="translate(74.6 61.9) scale(1 1.045)" text-anchor="end" class="yl">-10</text>
<text transform="translate(74.6 107.17) scale(1 1.045)" text-anchor="end" class="yl">-11</text>
<text transform="translate(74.6 152.44) scale(1 1.045)" text-anchor="end" class="yl">-12</text>
<text transform="translate(74.6 197.71) scale(1 1.045)" text-anchor="end" class="yl">-13</text>
<text transform="translate(74.6 242.98) scale(1 1.045)" text-anchor="end" class="yl">-14</text>
<text transform="translate(74.6 288.25) scale(1 1.045)" text-anchor="end" class="yl">-15</text>
<text transform="translate(74.6 333.52) scale(1 1.045)" text-anchor="end" class="yl">-16</text>
<text transform="translate(74.6 378.79) scale(1 1.045)" text-anchor="end" class="yl">-17</text>
<text transform="translate(74.6 424.06) scale(1 1.045)" text-anchor="end" class="yl">-18</text>
<text transform="translate(93.85 452.2) scale(0.97 1.02)" text-anchor="middle" class="xl">0</text>
<text transform="translate(202.8 452.2) scale(0.97 1.02)" text-anchor="middle" class="xl">20</text>
<text transform="translate(311.65 452.2) scale(0.97 1.02)" text-anchor="middle" class="xl">40</text>
<text transform="translate(421.4 452.2) scale(0.97 1.02)" text-anchor="middle" class="xl">60</text>
<text transform="translate(530.35 452.2) scale(0.97 1.02)" text-anchor="middle" class="xl">80</text>
<text transform="translate(635.5 452.2) scale(0.97 1.02)" text-anchor="middle" class="xl">100</text>
<text transform="translate(228.6 484.2) scale(1 1.035)" class="tt">Connected porosity (vol. %)</text>
<text transform="translate(17.4 315.3) rotate(-90) scale(1 1.03)" class="tt" style="font-size:22.08px">Permeability (log m<tspan baseline-shift="super" font-size="13.5">2</tspan><tspan dx="1.9">)</tspan></text>
<rect x="469.9" y="149.1" width="214" height="255.5" fill="#fff" stroke="#1a1a1a" stroke-width="1.9"/>
<text x="483.6" y="171.7" class="lg">This study</text>
<circle cx="496.4" cy="185" r="7.4" fill="#70ad47"/>
<text x="509.3" y="191.7" class="lg">Unaltered lava</text>
<circle cx="496.4" cy="205" r="6.5" fill="none" stroke="#ff0000" stroke-width="2.1"/>
<text x="509.3" y="211.7" class="lg">Weakly altered lava</text>
<circle cx="496.4" cy="225" r="6.5" fill="none" stroke="#000" stroke-width="2.1"/>
<text x="509.3" y="231.7" class="lg">Weakly altered scoria</text>
<circle cx="496.4" cy="245" r="7.2" fill="#ff0000"/>
<text x="509.3" y="251.7" class="lg">Strongly altered rock</text>
<text x="483.6" y="271.7" class="lg">Kendrick et al. (2016)</text>
<rect x="490" y="279.05" width="12.9" height="12.5" fill="#000"/>
<text x="509.3" y="291.7" class="lg">Starting material</text>
<rect x="490" y="299.05" width="12.9" height="12.5" fill="#5b9bd5"/>
<text x="509.3" y="311.7" class="lg">Sintered material</text>
<rect x="490" y="319.05" width="12.9" height="12.5" fill="#ed7d31"/>
<text x="509.3" y="331.7" class="lg">Natural tuffisite</text>
<text x="483.6" y="351.7" class="lg">Mueller et al. (2005)</text>
<path d="M493.3 365.2 H519.6" stroke="#000" stroke-width="1.3"/>
<text x="526.1" y="371.7" class="lg">Effusive products</text>
<path d="M493.3 385.2 H519.6" stroke="#000" stroke-width="1.3" stroke-dasharray="4.3 2.4"/>
<text x="526.1" y="391.7" class="lg">Explosive products</text>
</svg>
</body></html>
